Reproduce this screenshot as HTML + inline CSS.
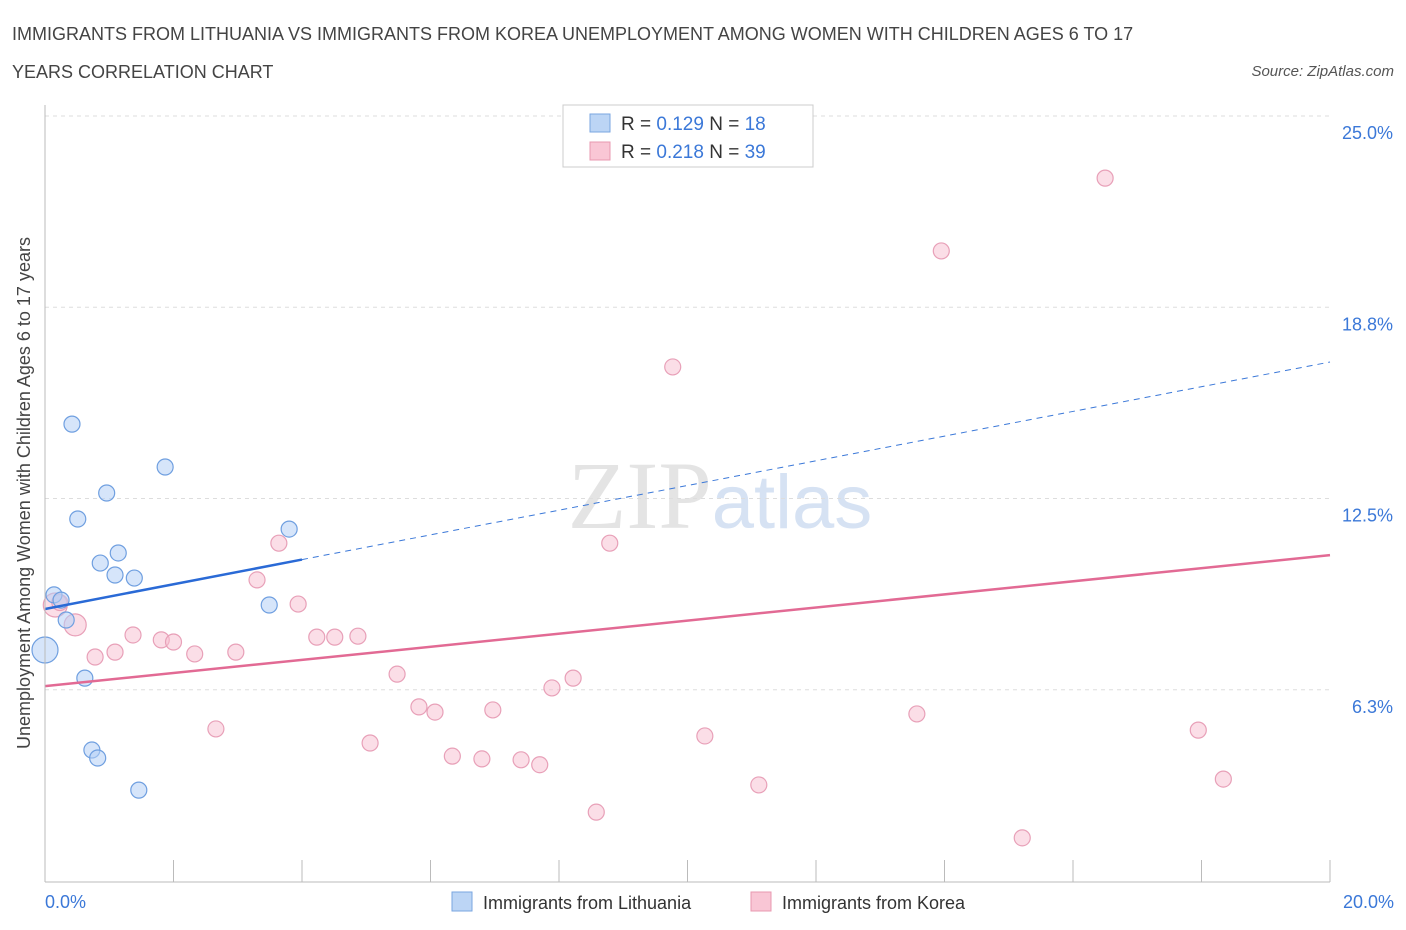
<!DOCTYPE html>
<html><head><meta charset="utf-8"><style>
body{margin:0;background:#fff;font-family:"Liberation Sans",sans-serif;}
#c{position:absolute;left:0;top:0}
</style></head><body>
<svg id="c" width="1406" height="930">
<text x="12" y="40" font-size="18" fill="#444">IMMIGRANTS FROM LITHUANIA VS IMMIGRANTS FROM KOREA UNEMPLOYMENT AMONG WOMEN WITH CHILDREN AGES 6 TO 17</text>
<text x="12" y="78" font-size="18" fill="#444">YEARS CORRELATION CHART</text>
<text x="1394" y="76" font-size="15" fill="#555" font-style="italic" text-anchor="end">Source: ZipAtlas.com</text>
<text x="720" y="528" font-size="96" fill="#e4e4e4" text-anchor="middle" font-family="Liberation Serif,serif">ZIP<tspan fill="#d6e2f3" font-family="Liberation Sans,sans-serif" font-size="76">atlas</tspan></text>
<g id="grid"></g><g id="pts"></g><g id="lines"></g>
<line x1="45" y1="105" x2="45" y2="882" stroke="#bbb"/>
<line x1="45" y1="882" x2="1330" y2="882" stroke="#bbb"/>
<text x="30" y="493" font-size="18" fill="#444" text-anchor="middle" transform="rotate(-90 30 493)">Unemployment Among Women with Children Ages 6 to 17 years</text>
<text x="45" y="908" font-size="18" fill="#3b78d8">0.0%</text>
<text x="1394" y="908" font-size="18" fill="#3b78d8" text-anchor="end">20.0%</text>
<g>
<rect x="563" y="105" width="250" height="62" fill="#fff" stroke="#ccc"/>
<rect x="590" y="114" width="20" height="18" fill="#bcd5f5" stroke="#7aa6e0"/>
<rect x="590" y="142" width="20" height="18" fill="#f9c6d5" stroke="#e898b0"/>
<text x="621" y="130" font-size="19" fill="#333">R = <tspan fill="#3b78d8">0.129</tspan>   N = <tspan fill="#3b78d8"> 18</tspan></text>
<text x="621" y="158" font-size="19" fill="#333">R = <tspan fill="#3b78d8">0.218</tspan>   N = <tspan fill="#3b78d8">39</tspan></text>
</g>
<g>
<rect x="452" y="892" width="20" height="19" fill="#bcd5f5" stroke="#7aa6e0"/>
<text x="483" y="909" font-size="18" fill="#333">Immigrants from Lithuania</text>
<rect x="751" y="892" width="20" height="19" fill="#f9c6d5" stroke="#e898b0"/>
<text x="782" y="909" font-size="18" fill="#333">Immigrants from Korea</text>
</g>
</svg>
<script>
const yTicks=[25.0,18.8,12.5,6.3];
const yTickVals=[25,18.75,12.5,6.25];
const xTickVals=[0,2,4,6,8,10,12,14,16,18,20];
const lithX=[0.42,1.87,0.96,0.51,3.80,1.14,0.86,1.09,1.39,0.14,0.25,0.33,3.49,0.62,0.73,0.82,1.46,0];
const lithY=[14.93,13.53,12.68,11.83,11.50,10.72,10.39,10.0,9.90,9.35,9.18,8.53,9.02,6.63,4.28,4.02,2.97,7.55];
const korX=[16.5,13.95,9.77,8.79,3.64,3.94,3.3,1.37,1.81,2.0,2.33,2.97,1.09,0.78,0.47,0.16,4.23,4.51,4.87,5.48,5.82,6.07,6.97,7.89,8.22,2.66,5.06,6.34,6.8,7.41,7.7,10.27,11.11,8.58,13.57,15.21,17.95,18.34,0.23];
const korY=[22.97,20.59,16.8,11.04,11.04,9.05,9.84,8.04,7.88,7.81,7.42,7.48,7.48,7.32,8.37,9.02,7.97,7.97,8.0,6.76,5.69,5.52,5.59,6.31,6.63,4.97,4.51,4.08,3.99,3.96,3.8,4.74,3.14,2.25,5.46,1.41,4.93,3.33,9.1];
const korR=[8,8,8,8,8,8,8,8,8,8,8,8,8,8,11,12,8,8,8,8,8,8,8,8,8,8,8,8,8,8,8,8,8,8,8,8,8,8,8];
const lithR=[8,8,8,8,8,8,8,8,8,8,8,8,8,8,8,8,8,13];
const lithTrend=[8.89,16.96];
const korTrend=[6.37,10.65];
const X=v=>45+v*64.25, Y=v=>881-v*30.6;
const NS="http://www.w3.org/2000/svg";
function mk(t,a,p){const e=document.createElementNS(NS,t);for(const k in a)e.setAttribute(k,a[k]);p.appendChild(e);return e;}
const grid=document.getElementById('grid');
yTickVals.forEach((v,i)=>{
 const l=mk('line',{x1:45,x2:1330,y1:Y(v),y2:Y(v),stroke:'#ddd','stroke-dasharray':'4,4'},grid);
 
 
 const t=mk('text',{x:1393,y:Y(v)+23,'font-size':18,fill:'#3b78d8','text-anchor':'end'},grid);
 t.textContent=yTicks[i].toFixed(1)+'%';
 
 
});
xTickVals.forEach(v=>{
 const l=mk('line',{x1:X(v),x2:X(v),y1:860,y2:882,stroke:'#bbb'},grid);
 
 
});
const pts=document.getElementById('pts');
korX.forEach((x,i)=>{
 const c=mk('circle',{cx:X(x),cy:Y(korY[i]),r:korR[i],fill:'rgba(248,190,208,0.5)',stroke:'#e8a0b8','stroke-width':1.2},pts);
 
 
});
lithX.forEach((x,i)=>{
 const c=mk('circle',{cx:X(x),cy:Y(lithY[i]),r:lithR[i],fill:'rgba(180,208,245,0.55)',stroke:'#6f9fe0','stroke-width':1.2},pts);
 
 
});
const lines=document.getElementById('lines');
const lb=v=>lithTrend[0]+(lithTrend[1]-lithTrend[0])*v/20;
let a=mk('line',{x1:X(0),y1:Y(lb(0)),x2:X(4),y2:Y(lb(4)),stroke:'#2a6ad6','stroke-width':2.5},lines);


a=mk('line',{x1:X(4),y1:Y(lb(4)),x2:X(20),y2:Y(lb(20)),stroke:'#3b78d8','stroke-width':1,'stroke-dasharray':'6,5'},lines);


a=mk('line',{x1:X(0),y1:Y(korTrend[0]),x2:X(20),y2:Y(korTrend[1]),stroke:'#e26a94','stroke-width':2.5},lines);


</script>
</body></html>
